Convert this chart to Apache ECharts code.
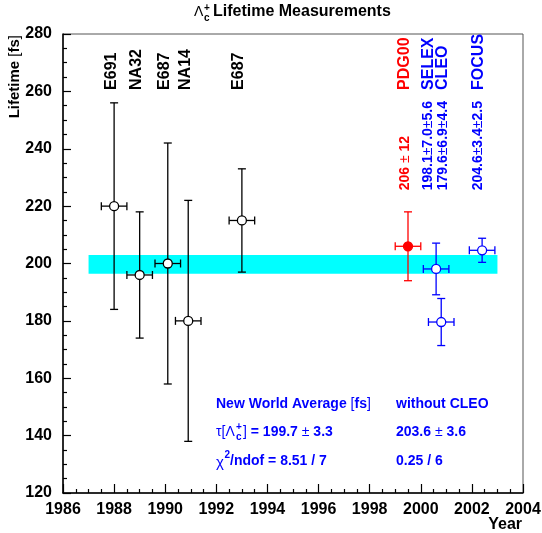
<!DOCTYPE html>
<html>
<head>
<meta charset="utf-8">
<title>Lambda_c lifetime</title>
<script src="https://cdn.jsdelivr.net/npm/echarts@6/dist/echarts.min.js"></script>
<style>
  html, body { margin: 0; padding: 0; background: #fff; }
  #chart { width: 542px; height: 533px; }
</style>
</head>
<body>
<div id="chart"></div>
<script>
  // older measurements (black, open markers)
  var oldNames = ['E691', 'NA32', 'E687', 'NA14', 'E687']
  var oldYears = [1988.0, 1989.0, 1990.1, 1990.9, 1993.0]
  var oldValues = [220, 196, 200, 180, 215]
  var oldErrors = [36, 22, 42, 42, 18]

  // PDG 2000 value (red, filled)
  var pdgNames = ['PDG00']
  var pdgYears = [1999.5]
  var pdgValues = [206]
  var pdgErrors = [12]
  var pdgTexts = ['206 ± 12']

  // new measurements (blue, open)
  var newNames = ['SELEX', 'CLEO', 'FOCUS']
  var newYears = [2000.6, 2000.8, 2002.4]
  var newValues = [198.1, 179.6, 204.6]
  var newErrors = [9.0, 8.2, 4.2]
  var newTexts = ['198.1±7.0±5.6', '179.6±6.9±4.4', '204.6±3.4±2.5']

  // world average band
  var worldAvg = 199.7
  var worldErr = 3.3
  var bandYears = [1987, 2003]

  var yearErr = 0.5

  // axes
  var xMin = 1986, xMax = 2004, xStep = 2
  var yMin = 120, yMax = 280, yStep = 20

  // label anchors (in lifetime units) and small pixel nudges
  var nameAnchor = 260.5
  var textAnchor = 225.5
  var oldNameDx = [-3, -3, -3, -3, -3]
  var pdgDx = [-3]
  var newDx = [-8, 1.5, -3.5]

  var FONT = '"Liberation Sans", Arial, Helvetica, sans-serif'
  var BLUE = '#0000ff'
  var RED = '#ff0000'

  function zip(a, b, c) {
    return a.map(function (v, i) { return [v, b[i], c[i]] })
  }

  function lineEl(x1, y1, x2, y2, color) {
    return {
      type: 'line',
      shape: { x1: x1, y1: y1, x2: x2, y2: y2 },
      style: { stroke: color, lineWidth: 1.3 }
    }
  }

  function errorItem(color, filled) {
    return function (params, api) {
      var x = api.value(0), y = api.value(1), e = api.value(2)
      var c = api.coord([x, y])
      var top = api.coord([x, y + e])[1]
      var bot = api.coord([x, y - e])[1]
      var l = api.coord([x - yearErr, y])[0]
      var r = api.coord([x + yearErr, y])[0]
      var cap = 4
      return {
        type: 'group',
        children: [
          lineEl(c[0], top, c[0], bot, color),
          lineEl(c[0] - cap, top, c[0] + cap, top, color),
          lineEl(c[0] - cap, bot, c[0] + cap, bot, color),
          lineEl(l, c[1], r, c[1], color),
          lineEl(l, c[1] - cap, l, c[1] + cap, color),
          lineEl(r, c[1] - cap, r, c[1] + cap, color),
          {
            type: 'circle',
            shape: { cx: c[0], cy: c[1], r: 4.5 },
            style: { fill: filled ? color : '#fff', stroke: color, lineWidth: 1.3 }
          }
        ]
      }
    }
  }

  // rotated text placed at a year, reading bottom to top
  function rotatedText(texts, dxs, anchor, color, size, pm) {
    return function (params, api) {
      var i = params.dataIndex
      var p = api.coord([api.value(0), anchor])
      var style = {
        x: 0, y: 0,
        fill: color,
        font: 'bold ' + size + 'px ' + FONT,
        align: 'left',
        verticalAlign: 'middle'
      }
      if (pm) {
        style.text = texts[i].split('±').map(function (s) { return '{b|' + s + '}' }).join('{n|±}')
        style.rich = {
          b: { fill: color, font: 'bold ' + size + 'px ' + FONT },
          n: { fill: color, font: size + 'px ' + FONT }
        }
      } else {
        style.text = texts[i]
      }
      return {
        type: 'text',
        x: p[0] + dxs[i],
        y: p[1],
        rotation: Math.PI / 2,
        style: style
      }
    }
  }

  function txt(x, y, text, size, color, weight, align) {
    return {
      type: 'text', x: x, y: y,
      style: {
        text: text,
        fill: color || '#000',
        font: (weight || 'bold') + ' ' + size + 'px ' + FONT,
        align: align || 'left',
        verticalAlign: 'middle'
      }
    }
  }

  var chart = echarts.init(document.getElementById('chart'))
  chart.setOption({
    animation: false,
    backgroundColor: '#fff',
    grid: {
      left: 63, right: 19, top: 34, bottom: 40,
      show: true, borderColor: '#555', borderWidth: 1,
      outerBoundsMode: 'none'
    },
    xAxis: {
      type: 'value',
      min: xMin, max: xMax, interval: xStep,
      axisLine: { show: true, onZero: false, lineStyle: { color: '#000', width: 1.5 } },
      axisTick: { show: true, inside: true, length: 9, lineStyle: { color: '#000', width: 1.2 } },
      minorTick: { show: true, splitNumber: 4, length: 4, lineStyle: { color: '#000', width: 1.2 } },
      splitLine: { show: false },
      axisLabel: {
        color: '#000', fontSize: 16, fontWeight: 'bold', fontFamily: FONT, margin: 9,
        formatter: function (v) { return String(v) }
      }
    },
    yAxis: {
      type: 'value',
      min: yMin, max: yMax, interval: yStep,
      axisLine: { show: true, onZero: false, lineStyle: { color: '#000', width: 1.5 } },
      axisTick: { show: true, inside: true, length: 8, lineStyle: { color: '#000', width: 1.2 } },
      minorTick: { show: true, splitNumber: 4, length: 4, lineStyle: { color: '#000', width: 1.2 } },
      splitLine: { show: false },
      axisLabel: { color: '#000', fontSize: 16, fontWeight: 'bold', fontFamily: FONT, margin: 11 }
    },
    graphic: [
      // title
      txt(194, 12, 'Λ', 14, '#000', 'normal'),
      txt(204, 8, '+', 10, '#000'),
      txt(204, 18, 'c', 10, '#000'),
      txt(213, 12, 'Lifetime Measurements', 16, '#000'),
      // axis titles
      {
        type: 'text', x: 15, y: 35, rotation: Math.PI / 2,
        style: {
          text: '{b|Lifetime }{n|[}{b|fs}{n|]}',
          fill: '#000', font: 'bold 15px ' + FONT, align: 'right', verticalAlign: 'middle',
          rich: { b: { font: 'bold 15px ' + FONT }, n: { font: '15px ' + FONT } }
        }
      },
      txt(522, 525, 'Year', 16, '#000', 'bold', 'right'),
      // averages
      {
        type: 'text', x: 216, y: 404,
        style: {
          text: '{b|New World Average }{n|[}{b|fs}{n|]}',
          fill: BLUE, font: 'bold 14px ' + FONT, align: 'left', verticalAlign: 'middle',
          rich: { b: { fill: BLUE, font: 'bold 14px ' + FONT }, n: { fill: BLUE, font: '14px ' + FONT } }
        }
      },
      txt(396, 404, 'without CLEO', 14, BLUE),
      txt(216, 432, 'τ[Λ', 14, BLUE, 'normal'),
      txt(236, 427, '+', 10, BLUE),
      txt(236, 437, 'c', 10, BLUE),
      {
        type: 'text', x: 243, y: 432,
        style: {
          text: '{n|]}{b| = 199.7 }{n|±}{b| 3.3}',
          fill: BLUE, font: 'bold 14px ' + FONT, align: 'left', verticalAlign: 'middle',
          rich: { b: { fill: BLUE, font: 'bold 14px ' + FONT }, n: { fill: BLUE, font: '14px ' + FONT } }
        }
      },
      {
        type: 'text', x: 396, y: 432,
        style: {
          text: '{b|203.6 }{n|±}{b| 3.6}',
          fill: BLUE, font: 'bold 14px ' + FONT, align: 'left', verticalAlign: 'middle',
          rich: { b: { fill: BLUE, font: 'bold 14px ' + FONT }, n: { fill: BLUE, font: '14px ' + FONT } }
        }
      },
      txt(216, 463, 'χ', 15, BLUE, 'normal'),
      txt(224.5, 455, '2', 10, BLUE),
      txt(230, 461, '/ndof = 8.51 / 7', 14, BLUE),
      txt(396, 461, '0.25 / 6', 14, BLUE)
    ],
    series: [
      {
        type: 'custom',
        z: 1,
        data: [[worldAvg, worldErr]],
        renderItem: function (params, api) {
          var a = api.coord([bandYears[0], api.value(0) + api.value(1)])
          var b = api.coord([bandYears[1], api.value(0) - api.value(1)])
          return {
            type: 'rect',
            shape: { x: a[0], y: a[1], width: b[0] - a[0], height: b[1] - a[1] },
            style: { fill: '#00ffff' }
          }
        }
      },
      { type: 'custom', z: 3, data: zip(oldYears, oldValues, oldErrors), renderItem: errorItem('#000', false) },
      { type: 'custom', z: 3, data: zip(pdgYears, pdgValues, pdgErrors), renderItem: errorItem(RED, true) },
      { type: 'custom', z: 3, data: zip(newYears, newValues, newErrors), renderItem: errorItem(BLUE, false) },
      // names
      { type: 'custom', z: 4, data: oldYears.map(function (y) { return [y] }), renderItem: rotatedText(oldNames, oldNameDx, nameAnchor, '#000', 16) },
      { type: 'custom', z: 4, data: pdgYears.map(function (y) { return [y] }), renderItem: rotatedText(pdgNames, pdgDx, nameAnchor, RED, 16) },
      { type: 'custom', z: 4, data: newYears.map(function (y) { return [y] }), renderItem: rotatedText(newNames, newDx, nameAnchor, BLUE, 16) },
      // values
      { type: 'custom', z: 4, data: pdgYears.map(function (y) { return [y] }), renderItem: rotatedText(pdgTexts, pdgDx, textAnchor, RED, 14, true) },
      { type: 'custom', z: 4, data: newYears.map(function (y) { return [y] }), renderItem: rotatedText(newTexts, newDx, textAnchor, BLUE, 14, true) }
    ]
  })
</script>
</body>
</html>
